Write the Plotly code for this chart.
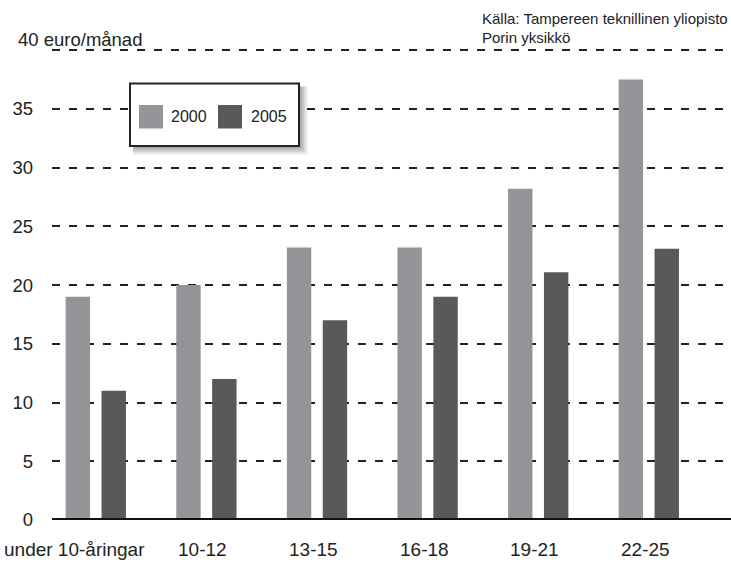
import plotly.graph_objects as go

# ---------------- data ----------------
categories = ["under 10-åringar", "10-12", "13-15", "16-18", "19-21", "22-25"]
series_names = ["2000", "2005"]
values_2000 = [19, 20, 23.2, 23.2, 28.2, 37.5]
values_2005 = [11, 12, 17, 19, 21.1, 23.1]
y_tick_values = [0, 5, 10, 15, 20, 25, 30, 35, 40]
y_tick_labels = ["0", "5", "10", "15", "20", "25", "30", "35", ""]
y_axis_title = "40 euro/månad"
source_lines = ["Källa: Tampereen teknillinen yliopisto", "Porin yksikkö"]

# ---------------- style ----------------
W, H = 731, 563
L, R, T, B = 52, 0, 49, 43
PW, PH = W - L - R, H - T - B
LIGHT = "#939598"
DARK = "#58595b"
INK = "#222222"
FONT = "Liberation Sans, Arial, sans-serif"


def px(x):
    return (x - L) / PW


def py(y):
    return (H - B - y) / PH


fig = go.Figure()
fig.add_trace(go.Bar(x=categories, y=values_2000, name=series_names[0],
                     marker=dict(color=LIGHT, line=dict(width=0)), showlegend=False))
fig.add_trace(go.Bar(x=categories, y=values_2005, name=series_names[1],
                     marker=dict(color=DARK, line=dict(width=0)), showlegend=False))

shapes = []
# baseline
shapes.append(dict(type="line", xref="paper", yref="y", x0=0, x1=1, y0=0, y1=0,
                   line=dict(color="#111", width=4), layer="above"))

# manual legend: soft shadow, box, swatches
bx0, by0, bx1, by1 = 130, 83.5, 299, 146
for i, op in enumerate([0.05, 0.06, 0.07, 0.08, 0.09]):
    d = 9 - i * 1.5
    shapes.append(dict(type="rect", xref="paper", yref="paper",
                       x0=px(bx0 + 3), x1=px(bx1 + d), y0=py(by1 + d), y1=py(by0 + 3),
                       line=dict(width=0), fillcolor="rgba(0,0,0,%s)" % op, layer="above"))
shapes.append(dict(type="rect", xref="paper", yref="paper",
                   x0=px(bx0), x1=px(bx1), y0=py(by1), y1=py(by0),
                   line=dict(color=INK, width=2), fillcolor="white", layer="above"))
swatches = [(139, 163, LIGHT), (218, 242, DARK)]
for x0, x1, c in swatches:
    shapes.append(dict(type="rect", xref="paper", yref="paper",
                       x0=px(x0), x1=px(x1), y0=py(128.5), y1=py(105),
                       line=dict(width=0), fillcolor=c, layer="above"))

annotations = []
legend_text_x = [169, 248.5]
for name, lx in zip(series_names, legend_text_x):
    annotations.append(dict(text=name, xref="paper", yref="paper", x=px(lx), y=py(116.5),
                            xanchor="left", yanchor="middle", showarrow=False,
                            font=dict(size=16, color=INK, family=FONT)))

annotations.append(dict(text=y_axis_title, xref="paper", yref="y", x=px(16), y=40,
                        xanchor="left", yanchor="middle", yshift=11, showarrow=False,
                        font=dict(size=18.5, color=INK, family=FONT)))

src_y = [18.5, 37]
for line, sy in zip(source_lines, src_y):
    annotations.append(dict(text=line, xref="paper", yref="paper", x=px(480), y=py(sy),
                            xanchor="left", yanchor="middle", showarrow=False,
                            font=dict(size=15, color=INK, family=FONT)))

# category labels (left aligned with the group, first one right-aligned to fit)
label_anchor = ["right"] + ["left"] * (len(categories) - 1)
label_shift = [51] + [-30] * (len(categories) - 1)
for cat, anc, sh in zip(categories, label_anchor, label_shift):
    annotations.append(dict(text=cat, xref="x", yref="y", x=cat, y=0, yshift=-29,
                            xanchor=anc, xshift=sh, yanchor="middle", showarrow=False,
                            font=dict(size=19, color=INK, family=FONT)))

fig.update_layout(
    width=W, height=H,
    margin=dict(l=L, r=R, t=T, b=B, pad=0),
    paper_bgcolor="white", plot_bgcolor="white",
    barmode="group", bargap=0.351, bargroupgap=0.32,
    font=dict(family=FONT, color=INK),
    xaxis=dict(type="category", range=[-0.396, 5.743], showgrid=False, showticklabels=False,
               showline=False, zeroline=False, ticks=""),
    yaxis=dict(range=[0, 40.1], tickvals=y_tick_values, ticktext=y_tick_labels,
               showgrid=True, gridcolor=INK, gridwidth=1.5, griddash="8px,9px",
               zeroline=False, showline=False, ticks="", ticklabelstandoff=18,
               tickfont=dict(size=18.5, color=INK, family=FONT)),
    shapes=shapes, annotations=annotations, showlegend=False,
)

fig.write_html("out.html", config={"displayModeBar": False},
               post_script="document.body.style.margin='0px';")
